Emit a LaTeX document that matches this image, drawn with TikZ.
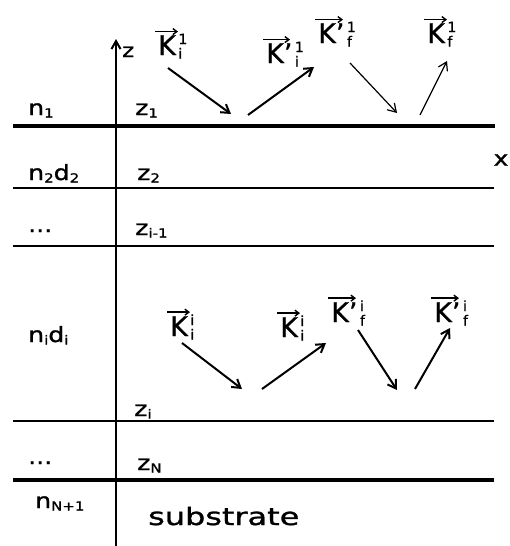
\documentclass[tikz,border=0pt]{standalone}
\usepackage{fontspec}
\setmainfont{DejaVu Sans}
\newfontfamily\labfont[FakeStretch=1.2,FakeBold=1.2]{DejaVu Sans}
\newfontfamily\subsfont[FakeStretch=1.33,FakeBold=1.2]{DejaVu Sans}
\newfontfamily\kfont[FakeBold=0.8]{DejaVu Sans}
\usetikzlibrary{arrows.meta}
\newcommand{\lsub}[1]{\raisebox{-2.5pt}{\fontsize{12.5}{12.5}\selectfont #1}}
\newcommand{\scr}[1]{{\fontsize{14}{14}\selectfont #1}}
\newcommand{\vK}[3]{#1\kern2.5pt\makebox[0pt][l]{\raisebox{11pt}{\scr{#2}}}\raisebox{-3.5pt}{\scr{#3}}}
\begin{document}
\begin{tikzpicture}[x=1pt,y=-1pt,
  lab/.style={anchor=base west,inner sep=0pt,font=\labfont\fontsize{21}{21}\selectfont},
  subslab/.style={anchor=base west,inner sep=0pt,font=\subsfont\fontsize{24}{24}\selectfont},
  klab/.style={anchor=base west,inner sep=0pt,font=\kfont\fontsize{27}{27}\selectfont},
  heavy/.style={line width=4.5pt},
  light/.style={line width=1.8pt},
  axisline/.style={line width=2pt,-{Straight Barb[length=8pt,width=9pt,line width=2pt]}},
  ray/.style={line width=2pt,-{Straight Barb[length=8pt,width=10pt,line width=2pt]}},
  thinray/.style={line width=1.2pt,-{Straight Barb[length=8pt,width=10pt,line width=1.2pt]}},
  vec/.style={line width=1.6pt,-{Straight Barb[length=4pt,width=6pt,line width=1.4pt]}},
  ]
\useasboundingbox (0,0) rectangle (510,546);

% interfaces
\coordinate (l1a) at (13,126);  \coordinate (l1b) at (495,126);
\coordinate (l2a) at (13,188);  \coordinate (l2b) at (494,188);
\coordinate (l3a) at (13,246);  \coordinate (l3b) at (494,246);
\coordinate (l4a) at (13,421);  \coordinate (l4b) at (494,421);
\coordinate (l5a) at (13,480);  \coordinate (l5b) at (494,480);
\draw[heavy] (l1a) -- (l1b);
\draw[light] (l2a) -- (l2b);
\draw[light] (l3a) -- (l3b);
\draw[light] (l4a) -- (l4b);
\draw[heavy] (l5a) -- (l5b);

% z axis
\coordinate (axb) at (116,546);
\coordinate (axt) at (116,39);
\draw[axisline] (axb) -- (axt);
\node[lab,font=\labfont\fontsize{19}{19}\selectfont] (zax) at (122,57) {z};
\node[lab,anchor=center] (xax) at (501,160) {x};

% layer labels
\node[lab] (n1) at (28,115) {n\lsub{1}};
\node[lab] (z1) at (135,115) {z\lsub{1}};
\node[lab] (n2) at (28,180) {n\lsub{2}d\lsub{2}};
\node[lab] (z2) at (137,180) {z\lsub{2}};
\node[lab] (dots1) at (28,232) {...};
\node[lab] (zim) at (135,235) {z\lsub{i-1}};
\node[lab] (ni) at (28,342) {n\lsub{i}d\lsub{i}};
\node[lab] (zi) at (134,416) {z\lsub{i}};
\node[lab] (dots2) at (28,464) {...};
\node[lab] (zN) at (137,470) {z\lsub{N}};
\node[lab] (nN) at (35,508) {n\lsub{N+1}};
\node[subslab] (subs) at (148,525) {substrate};

% wave vector labels, top layer
\node[klab] (k1) at (158,55) {\vK{K}{1}{i}};
\node[klab] (k2) at (266,63) {\vK{K’}{1}{i}};
\node[klab] (k3) at (318,43) {\vK{K’}{1}{f}};
\node[klab] (k4) at (427,43) {\vK{K}{1}{f}};
% wave vector labels, layer i
\node[klab] (k5) at (170,336) {\vK{K}{i}{i}};
\node[klab] (k6) at (280,337) {\vK{K}{i}{i}};
\node[klab] (k7) at (331,322) {\vK{K’}{i}{f}};
\node[klab] (k8) at (434,322) {\vK{K’}{i}{f}};

\foreach \k/\len in {k1/20,k2/24,k3/25,k4/20,k5/20,k6/20,k7/25,k8/25}{
  \draw[vec] ([xshift=-3pt,yshift=2pt]\k.north west) -- ([xshift=\len pt,yshift=2pt]\k.north west);
}

% rays, top
\coordinate (r1s) at (168,68);  \coordinate (r1e) at (231,114);
\coordinate (r2s) at (248,115); \coordinate (r2e) at (314,67);
\coordinate (r3s) at (350,63);  \coordinate (r3e) at (397,113);
\coordinate (r4s) at (420,115); \coordinate (r4e) at (447,61);
\draw[ray] (r1s) -- (r1e);
\draw[ray] (r2s) -- (r2e);
\draw[thinray] (r3s) -- (r3e);
\draw[thinray] (r4s) -- (r4e);
% rays, layer i
\coordinate (r5s) at (182,343); \coordinate (r5e) at (242,389);
\coordinate (r6s) at (262,389); \coordinate (r6e) at (326,343);
\coordinate (r7s) at (358,330); \coordinate (r7e) at (397,390);
\coordinate (r8s) at (415,389); \coordinate (r8e) at (450,328);
\draw[ray] (r5s) -- (r5e);
\draw[ray] (r6s) -- (r6e);
\draw[ray] (r7s) -- (r7e);
\draw[ray] (r8s) -- (r8e);
\end{tikzpicture}
\end{document}
